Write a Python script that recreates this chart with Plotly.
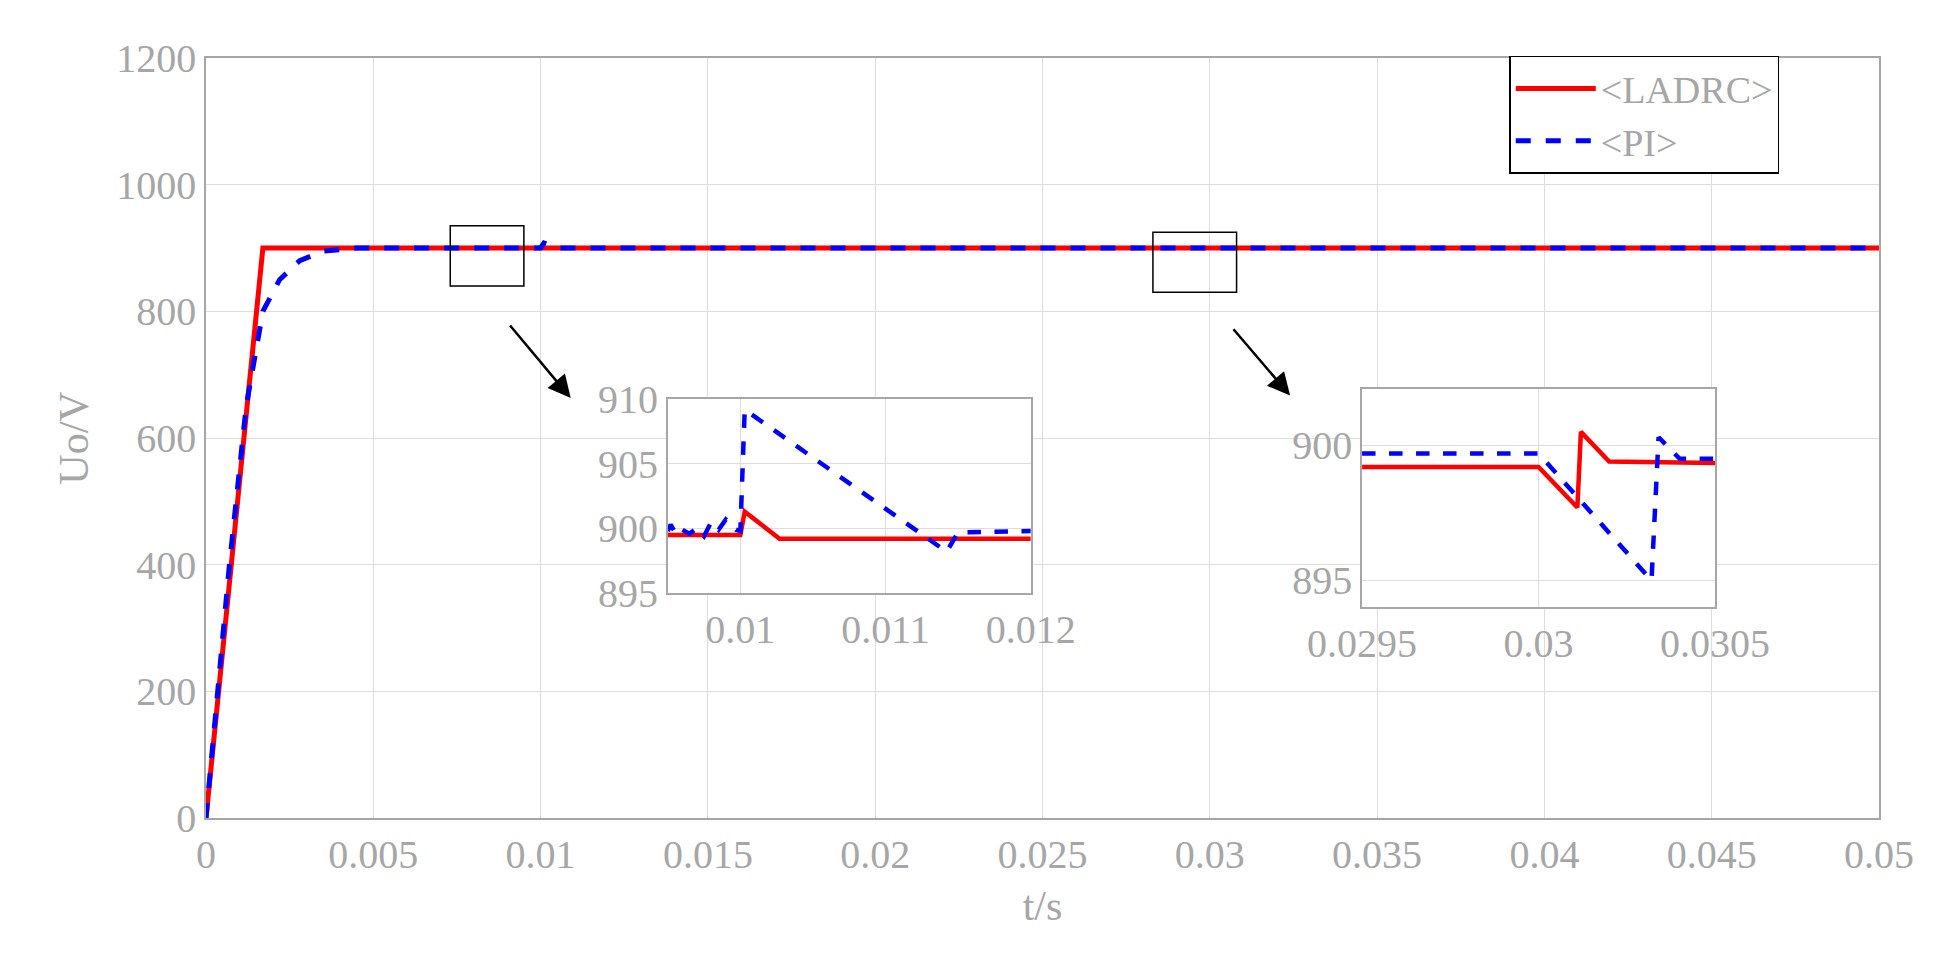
import plotly.graph_objects as go

# main traces
t_ladrc = [0, 0.0017, 0.0101, 0.0104, 0.05]
u_ladrc = [0, 900, 900, 900, 900]
t_pi = [0, 0.0007, 0.0012, 0.0017, 0.0022, 0.0028, 0.0035, 0.0045, 0.0100, 0.0101, 0.0105, 0.05]
u_pi = [0, 400, 650, 800, 850, 880, 895, 900, 900, 908, 900, 900]

# inset 1 (around t = 0.01)
t1_ladrc = [0.0095, 0.0100, 0.01003, 0.01027, 0.0120]
u1_ladrc = [899.5, 899.5, 901.3, 899.2, 899.2]
t1_pi = [0.0095, 0.00952, 0.00956, 0.0096, 0.00965, 0.0097, 0.00975, 0.0098, 0.00985, 0.0099, 0.00997, 0.0100, 0.01003, 0.01142, 0.0115, 0.0120]
u1_pi = [899.8, 900.3, 899.5, 899.9, 899.6, 900.0, 899.4, 900.5, 899.9, 900.7, 899.9, 899.8, 909.2, 898.2, 899.7, 899.8]

# inset 2 (around t = 0.03)
t2_ladrc = [0.0295, 0.0300, 0.03011, 0.03012, 0.0302, 0.0305]
u2_ladrc = [899.2, 899.2, 897.7, 900.5, 899.4, 899.35]
t2_pi = [0.0295, 0.0300, 0.03032, 0.03034, 0.0304, 0.0305]
u2_pi = [899.7, 899.7, 895.0, 900.3, 899.5, 899.5]

RED = "#ff0000"
BLUE = "#0000ff"
GRAY = "#a6a6a6"
FONT = "Liberation Serif"

fig = go.Figure()
fig.add_trace(go.Scatter(x=t_ladrc, y=u_ladrc, mode="lines", name="&lt;LADRC&gt;",
                         line=dict(color=RED, width=5)))
fig.add_trace(go.Scatter(x=t_pi, y=u_pi, mode="lines", name="&lt;PI&gt;",
                         line=dict(color=BLUE, width=5, dash="dash")))
fig.add_trace(go.Scatter(x=t1_ladrc, y=u1_ladrc, mode="lines", showlegend=False,
                         line=dict(color=RED, width=4.5), xaxis="x2", yaxis="y2"))
fig.add_trace(go.Scatter(x=t1_pi, y=u1_pi, mode="lines", showlegend=False,
                         line=dict(color=BLUE, width=4.5, dash="dash"), xaxis="x2", yaxis="y2"))
fig.add_trace(go.Scatter(x=t2_ladrc, y=u2_ladrc, mode="lines", showlegend=False,
                         line=dict(color=RED, width=4.5), xaxis="x3", yaxis="y3"))
fig.add_trace(go.Scatter(x=t2_pi, y=u2_pi, mode="lines", showlegend=False,
                         line=dict(color=BLUE, width=4.5, dash="dash"), xaxis="x3", yaxis="y3"))

ax_common = dict(showline=True, linecolor=GRAY, linewidth=1.5, mirror=True,
                 gridcolor="#dddddd", gridwidth=1, zeroline=False, ticks="",
                 tickfont=dict(family=FONT, size=40, color=GRAY))

fig.update_layout(
    width=1939, height=975,
    paper_bgcolor="white", plot_bgcolor="white",
    margin=dict(l=198, r=68, t=50, b=165),
    font=dict(family=FONT, color=GRAY),
    xaxis=dict(range=[0, 0.05], dtick=0.005, domain=[0, 1],
               title=dict(text="t/s", font=dict(family=FONT, size=42, color=GRAY), standoff=15),
               **ax_common),
    yaxis=dict(range=[0, 1200], dtick=200, domain=[0, 1],
               title=dict(text="Uo/V", font=dict(family=FONT, size=42, color=GRAY), standoff=15),
               **ax_common),
    xaxis2=dict(domain=[0.276, 0.493], anchor="y2", range=[0.0095, 0.012],
                tickvals=[0.01, 0.011, 0.012], ticktext=["0.01", "0.011", "0.012"], **ax_common),
    yaxis2=dict(domain=[0.296, 0.551], anchor="x2", range=[895, 910], dtick=5, **ax_common),
    xaxis3=dict(domain=[0.691, 0.902], anchor="y3", range=[0.0295, 0.0305],
                tickvals=[0.0295, 0.03, 0.0305], ticktext=["0.0295", "0.03", "0.0305"], **ax_common),
    yaxis3=dict(domain=[0.277, 0.565], anchor="x3", range=[894, 902.1],
                tickvals=[895, 900], **ax_common),
    legend=dict(x=0.779, y=1.003, xanchor="left", yanchor="top", itemwidth=80,
                bordercolor="black", borderwidth=1.5, bgcolor="white",
                font=dict(family=FONT, size=38, color=GRAY)),
    shapes=[
        dict(type="rect", xref="x", yref="y", x0=0.0073, x1=0.0095, y0=840, y1=935,
             line=dict(color="black", width=1.5)),
        dict(type="rect", xref="x", yref="y", x0=0.0283, x1=0.0308, y0=830, y1=925,
             line=dict(color="black", width=1.5)),
    ],
    annotations=[
        dict(x=0.0109, y=663, ax=0.00905, ay=780, xref="x", yref="y", axref="x", ayref="y",
             showarrow=True, arrowhead=2, arrowsize=1.8, arrowwidth=2.5, arrowcolor="black", text=""),
        dict(x=0.0324, y=667, ax=0.03067, ay=774, xref="x", yref="y", axref="x", ayref="y",
             showarrow=True, arrowhead=2, arrowsize=1.8, arrowwidth=2.5, arrowcolor="black", text=""),
    ],
)

fig.write_html("out.html")
